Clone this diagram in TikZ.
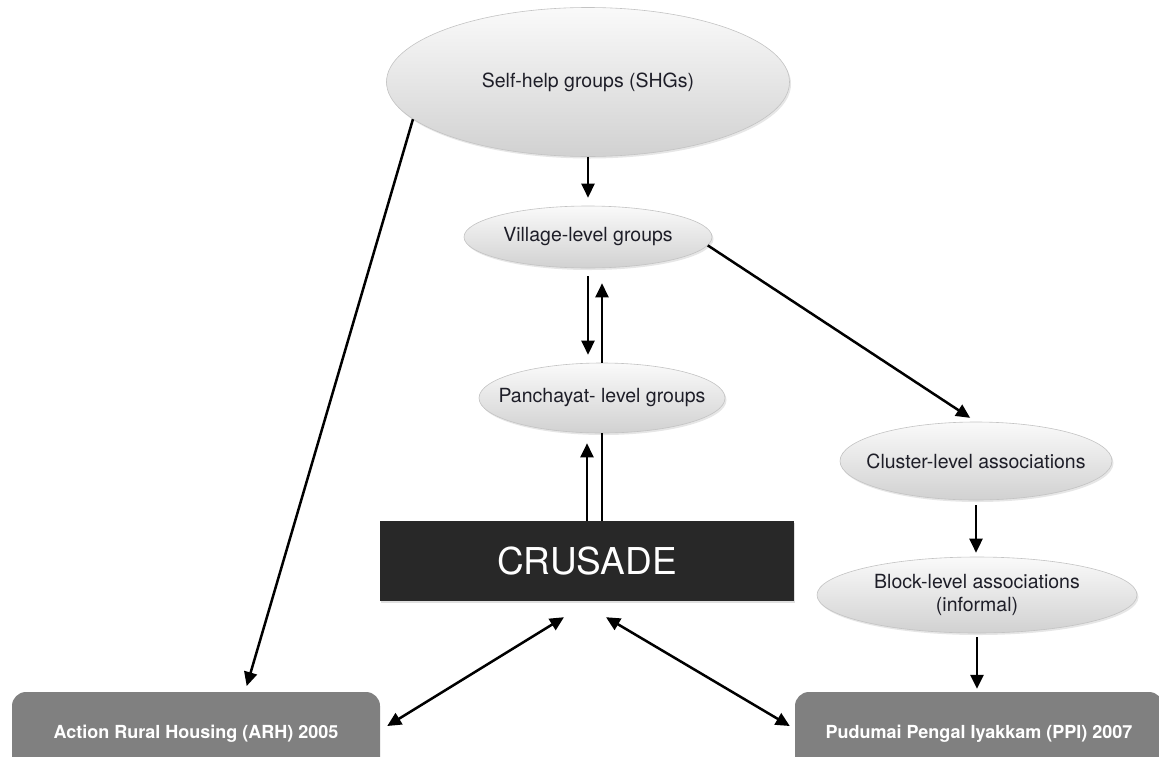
\documentclass[tikz,border=0pt]{standalone}
\usepackage{fontspec}
\setmainfont{TeX Gyre Heros}
\usepackage{tikz}
\usetikzlibrary{shapes,arrows.meta,positioning,calc,shadows}
\definecolor{darkbox}{RGB}{40,40,40}
\definecolor{midgray}{RGB}{128,128,128}
\definecolor{ovalline}{RGB}{195,195,195}
\definecolor{ovaltext}{RGB}{30,30,40}

\begin{document}
\begin{tikzpicture}[x=1pt,y=-1pt,
    oval/.style={ellipse, draw=ovalline, line width=0.6pt, top color=gray!4, bottom color=gray!36,
                 inner xsep=-60pt, inner ysep=-20pt, text=ovaltext, font=\fontsize{19.5}{23.5}\selectfont, align=center,
                 drop shadow={shadow xshift=1.5pt, shadow yshift=-2pt, opacity=0.2}},
    orgbox/.style={rectangle, rounded corners=14pt, fill=midgray, text=white,
                   font=\bfseries\fontsize{18}{21}\selectfont, minimum width=368pt, minimum height=84pt, inner sep=0pt},
    link/.style={line width=2.5pt, -{Triangle[length=14pt,width=13pt]}},
    biglink/.style={line width=2.5pt, {Triangle[length=14pt,width=13pt]}-{Triangle[length=14pt,width=13pt]}},
    plain/.style={line width=2.5pt}]

\useasboundingbox (0,0) rectangle (1159,756);

% groups
\node[oval, minimum width=403pt, minimum height=149pt] (shg) at (588,82) {Self-help groups (SHGs)};
\node[oval, minimum width=248pt, minimum height=62pt] (village) at (588,237) {Village-level groups};
\node[oval, minimum width=246pt, minimum height=70pt] (pan) at (602,398) {Panchayat- level groups};
\node[oval, minimum width=272pt, minimum height=78pt] (cluster) at (976,461) {Cluster-level associations};
\node[oval, minimum width=320pt, minimum height=76pt] (block) at (977,595) {Block-level associations\\(informal)};

% organisations
\node[rectangle, fill=darkbox, text=white, minimum width=414pt, minimum height=80pt,
      font=\fontsize{37}{40}\selectfont, drop shadow={shadow xshift=1pt, shadow yshift=-2pt, opacity=0.25}]
      (crusade) at (587,561) {CRUSADE};
\node[orgbox] (arh) at (196,734) {Action Rural Housing (ARH) 2005};
\node[orgbox] (ppi) at (979,734) {Pudumai Pengal Iyakkam (PPI) 2007};

% links
\draw[link, shorten >=8pt] (shg.south) -- (village.north);
\draw[link, shorten <=8pt, shorten >=8pt] (village.south) -- (village.south |- pan.north);
\draw[link, shorten >=15pt] (pan.north) -- (pan.north |- village.south);
\draw[link, shorten >=10pt] (crusade.north) -- (crusade.north |- pan.south);
\draw[plain] (crusade.north -| pan.south) -- (pan.south);
\draw[link, shorten >=7pt] (village.-4) -- (cluster.north);
\draw[link, shorten <=5pt, shorten >=4pt] (cluster.south) -- (cluster.south |- block.north);
\draw[link, shorten <=4pt, shorten >=3pt] (block.south) -- (block.south |- ppi.north);
\draw[link, shorten >=6pt] (shg.192) -- ($(arh.north)+(49,0)$);
\draw[biglink] ($(arh.east)+(7,-8)$) -- ($(crusade.south)+(-23,16)$);
\draw[biglink] ($(ppi.west)+(-5,-8)$) -- ($(crusade.south)+(19,16)$);

\end{tikzpicture}
\end{document}
